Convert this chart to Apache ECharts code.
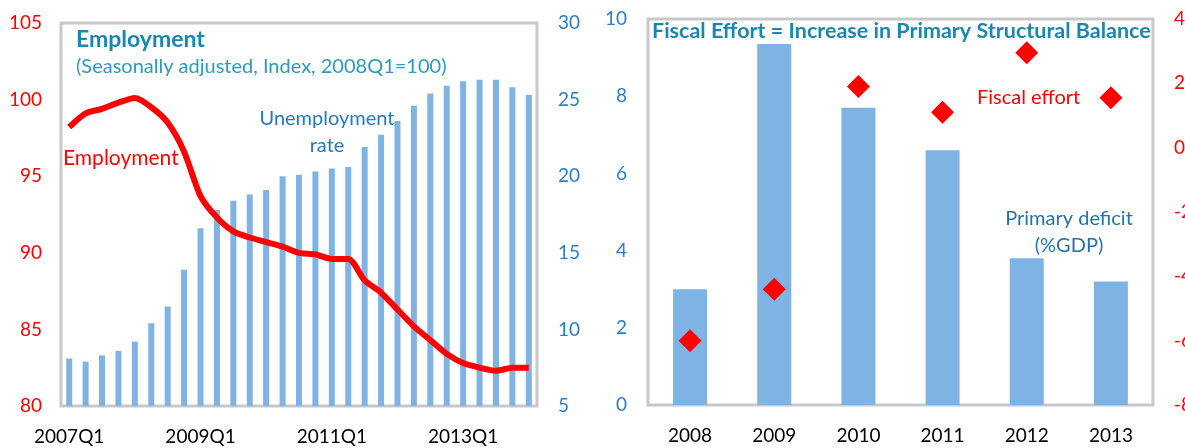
<!DOCTYPE html>
<html>
<head>
<meta charset="utf-8">
<script src="https://cdn.jsdelivr.net/npm/echarts@6/dist/echarts.min.js"></script>
<style>
  html, body { margin: 0; padding: 0; background: #fff; }
  #main { width: 1185px; height: 448px; }
</style>
</head>
<body>
<div id="main"></div>
<script>
// left panel: quarterly data 2007Q1 - 2014Q1
var quarters = [
    '2007Q1', '2007Q2', '2007Q3', '2007Q4',
    '2008Q1', '2008Q2', '2008Q3', '2008Q4',
    '2009Q1', '2009Q2', '2009Q3', '2009Q4',
    '2010Q1', '2010Q2', '2010Q3', '2010Q4',
    '2011Q1', '2011Q2', '2011Q3', '2011Q4',
    '2012Q1', '2012Q2', '2012Q3', '2012Q4',
    '2013Q1', '2013Q2', '2013Q3', '2013Q4',
    '2014Q1'
];
var unemployment = [8.1, 7.9, 8.3, 8.6, 9.2, 10.4, 11.5, 13.9, 16.6, 17.8,
    18.4, 18.8, 19.1, 20.0, 20.1, 20.3, 20.5, 20.6, 21.9, 22.7,
    23.6, 24.6, 25.4, 25.9, 26.2, 26.3, 26.3, 25.8, 25.3];
var employment = [98.2, 99.1, 99.4, 99.8, 100.1, 99.5, 98.5, 96.6, 93.7, 92.3,
    91.4, 91.0, 90.7, 90.4, 90.0, 89.9, 89.6, 89.6, 88.2, 87.4,
    86.3, 85.2, 84.3, 83.4, 82.8, 82.5, 82.3, 82.5, 82.5];

// right panel: yearly data
var years = ['2008', '2009', '2010', '2011', '2012', '2013'];
var primaryDeficit = [3.0, 9.35, 7.7, 6.6, 3.8, 3.2];
var fiscalEffort = [-6.0, -4.4, 1.9, 1.1, 2.95, 1.55];

var FONT = "Lato, 'Noto Sans', sans-serif";
var RED = '#ff0000';
var BLUE = '#2a7fcc';
var BAR = '#7eb3e4';
var TEAL = '#1a87b0';

function valueAxis(grid, pos, min, max, step, color, gap) {
    return {
        type: 'value',
        gridIndex: grid,
        position: pos,
        min: min,
        max: max,
        interval: step,
        axisLine: { show: false },
        axisTick: { show: false },
        splitLine: { show: false },
        axisLabel: { color: color, fontSize: 19, fontFamily: FONT, margin: gap || 19 }
    };
}

function catAxis(grid, data, every) {
    return {
        type: 'category',
        gridIndex: grid,
        data: data,
        axisLine: { show: false },
        axisTick: { show: false },
        axisLabel: { color: '#000', fontSize: 19, fontFamily: FONT, margin: 21, interval: every }
    };
}

function label(text, x, y, color, size, bold, align) {
    return {
        type: 'text',
        x: x,
        y: y,
        style: {
            text: text,
            fill: color,
            font: (bold ? 'bold ' : '') + size + 'px ' + FONT,
            textAlign: align || 'left',
            textVerticalAlign: 'middle',
            lineHeight: 27
        }
    };
}

var myChart = echarts.init(document.getElementById('main'));
option = {
    animation: false,
    backgroundColor: '#fff',
    // outerBoundsMode none: keep the plot boxes fixed, let the right labels run off the edge
    grid: [{
        left: 61, top: 23, width: 476, height: 383,
        outerBoundsMode: 'none', containLabel: false,
        show: true, borderColor: '#c8c8c8', borderWidth: 3
    }, {
        left: 648, top: 19, width: 505, height: 386,
        outerBoundsMode: 'none', containLabel: false,
        show: true, borderColor: '#c8c8c8', borderWidth: 3
    }],
    xAxis: [
        catAxis(0, quarters, 7),
        catAxis(1, years, 0)
    ],
    yAxis: [
        valueAxis(0, 'left', 80, 105, 5, RED),
        valueAxis(0, 'right', 5, 30, 5, BLUE, 21),
        valueAxis(1, 'left', 0, 10, 2, BLUE, 21),
        valueAxis(1, 'right', -8, 4, 2, RED, 21)
    ],
    series: [{
        name: 'Unemployment rate',
        type: 'bar',
        xAxisIndex: 0,
        yAxisIndex: 1,
        barWidth: 6,
        itemStyle: { color: BAR },
        data: unemployment
    }, {
        name: 'Employment',
        type: 'line',
        xAxisIndex: 0,
        yAxisIndex: 0,
        smooth: 0.25,
        symbol: 'none',
        lineStyle: { color: RED, width: 6 },
        data: employment
    }, {
        name: 'Primary deficit',
        type: 'bar',
        xAxisIndex: 1,
        yAxisIndex: 2,
        barWidth: 34,
        itemStyle: { color: BAR },
        data: primaryDeficit
    }, {
        name: 'Fiscal effort',
        type: 'scatter',
        xAxisIndex: 1,
        yAxisIndex: 3,
        symbol: 'diamond',
        symbolSize: 23,
        itemStyle: { color: RED, opacity: 1 },
        data: fiscalEffort
    }],
    graphic: [
        label('Employment', 76, 40, TEAL, 23, true),
        label('(Seasonally adjusted, Index, 2008Q1=100)', 76, 67, '#2e9ac0', 20),
        label('Unemployment\nrate', 327, 132, '#2479c6', 20, false, 'center'),
        label('Employment', 63, 158, RED, 21),
        label('Fiscal Effort = Increase in Primary Structural Balance', 652, 31, TEAL, 21.5, true),
        label('Fiscal effort', 977, 98, RED, 20),
        label('Primary deficit\n(%GDP)', 1069, 232, '#2673a8', 20, false, 'center')
    ]
};
myChart.setOption(option);
</script>
</body>
</html>
